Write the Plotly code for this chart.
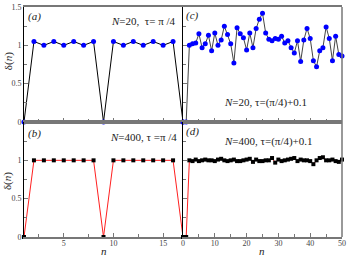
import plotly.graph_objects as go

# ---------------- data ----------------
n_left = list(range(1, 18))
delta_a = [0, 1.05, 1.0, 1.05, 1.0, 1.05, 1.0, 1.05, 0, 1.05, 1.0, 1.05, 1.0, 1.05, 1.0, 1.05, 0]
delta_b = [0, 1, 1, 1, 1, 1, 1, 1, 0, 1, 1, 1, 1, 1, 1, 1, 0]

n_right = list(range(0, 51))
delta_c = [0, 0, 1.0, 1.02, 1.03, 1.15, 0.97, 1.02, 1.13, 0.93, 1.16, 1.0, 1.07, 1.25,
           1.14, 1.02, 0.77, 1.23, 1.15, 1.10, 0.94, 1.16, 0.97, 1.22, 1.34,
           1.42, 1.16, 1.08, 1.06, 1.09, 1.08, 1.12, 1.03, 1.06, 0.97, 0.90, 1.06,
           0.79, 1.07, 1.22, 1.09, 0.80, 0.72, 0.93, 0.97, 1.24, 1.09, 0.80, 1.12,
           0.88, 0.86]
delta_d = [0, 0, 1.00, 0.99, 1.01, 0.99, 1.00, 1.01, 1.00, 1.00, 0.99, 1.01, 1.02,
           1.00, 0.99, 1.00, 1.01, 0.99, 0.99, 1.00, 1.01, 1.02, 0.98, 1.01, 0.99,
           0.99, 1.00, 1.00, 1.03, 0.97, 1.01, 0.99, 1.00, 1.01, 1.02, 1.03, 0.99,
           1.01, 1.00, 1.00, 0.99, 0.95, 1.00, 1.03, 1.04, 1.00, 1.00, 1.01, 0.99,
           0.98, 1.01]

W, H = 349, 257
ML, MR, MT, MB = 24, 5, 3, 20
PW, PH = W - ML - MR, H - MT - MB
FONT = "Liberation Serif"


def px(x):
    return (x - ML) / PW


def py(y):
    return (H - MB - y) / PH


fig = go.Figure()

blue_m = dict(symbol="circle", size=5, color="#0000ff")
sq_m = dict(symbol="square", size=4, color="black")

fig.add_trace(go.Scatter(x=n_left, y=delta_a, mode="lines+markers", xaxis="x", yaxis="y",
                         line=dict(color="black", width=1), marker=blue_m, cliponaxis=False))
fig.add_trace(go.Scatter(x=n_right, y=delta_c, mode="lines+markers", xaxis="x2", yaxis="y2",
                         line=dict(color="#444444", width=1), marker=blue_m, cliponaxis=False))
fig.add_trace(go.Scatter(x=n_left, y=delta_b, mode="lines+markers", xaxis="x3", yaxis="y3",
                         line=dict(color="#ff2020", width=1), marker=sq_m, cliponaxis=False))
fig.add_trace(go.Scatter(x=n_right, y=delta_d, mode="lines+markers", xaxis="x4", yaxis="y4",
                         line=dict(color="#ff2020", width=1), marker=sq_m, cliponaxis=False))

tickfont = dict(family=FONT, size=8, color="#444444")
GRAY = "#777777"


def xax(domain, anchor, rng, dtick, mdtick, labels):
    return dict(domain=domain, anchor=anchor, range=rng, dtick=dtick, tick0=0,
                ticks="inside", ticklen=4, tickwidth=1, tickcolor=GRAY,
                minor=dict(dtick=mdtick, tick0=0, ticks="inside", ticklen=3, tickcolor=GRAY),
                showline=True, linecolor=GRAY, linewidth=1.5, mirror=True,
                showgrid=False, zeroline=False, showticklabels=labels,
                tickfont=tickfont, ticklabelstandoff=-2)


def yax(domain, anchor, labels, text):
    return dict(domain=domain, anchor=anchor, range=[0, 1.5],
                tickmode="array", tickvals=[0, 0.5, 1, 1.5], ticktext=text,
                ticks="inside", ticklen=4, tickwidth=1, tickcolor=GRAY,
                minor=dict(tickvals=[0.25, 0.75, 1.25], ticks="inside", ticklen=3, tickcolor=GRAY),
                showline=True, linecolor="black", linewidth=1,
                showgrid=False, zeroline=False, showticklabels=labels,
                tickfont=tickfont)


fig.update_layout(
    width=W, height=H, margin=dict(l=ML, r=MR, t=MT, b=MB),
    paper_bgcolor="white", plot_bgcolor="white", showlegend=False,
    xaxis=xax([0, 0.5], "y", [1, 17], 5, 2.5, False),
    yaxis=yax([0.5, 1], "x", True, ["0", "0.5", "1", "1.5"]),
    xaxis2=xax([0.5, 1], "y2", [0, 50], 10, 5, False),
    yaxis2=yax([0.5, 1], "x2", False, ["", "", "", ""]),
    xaxis3=xax([0, 0.5], "y3", [1, 17], 5, 2.5, True),
    yaxis3=yax([0, 0.5], "x3", True, ["0", "0.5", "1", ""]),
    xaxis4=xax([0.5, 1], "y4", [0, 50], 10, 5, True),
    yaxis4=yax([0, 0.5], "x4", False, ["", "", "", ""]),
)

# right borders in gray
for y0, y1 in [(0, 0.5), (0.5, 1)]:
    fig.add_shape(type="line", xref="paper", yref="paper", x0=1, x1=1, y0=y0, y1=y1,
                  line=dict(color=GRAY, width=1.5))

afont = dict(family=FONT, size=11, color="#222222")


def ann(text, x, y, xanchor="left", angle=0):
    fig.add_annotation(text=text, xref="paper", yref="paper", x=px(x), y=py(y),
                       xanchor=xanchor, yanchor="middle", showarrow=False,
                       font=afont, textangle=angle)


ann("<i>(a)</i>", 26, 13)
ann("<i>N</i>=20,  τ= π /4", 179, 17, "right")
ann("<i>(c)</i>", 185, 12)
ann("<i>N</i>=20, τ=(π/4)+0.1", 223, 100)
ann("<i>(b)</i>", 26, 132)
ann("<i>N</i>=400, τ =π /4", 180, 135, "right")
ann("<i>(d)</i>", 185, 130)
ann("<i>N</i>=400, τ=(π/4)+0.1", 223, 140)
ann("<i>n</i>", 104, 251, "center")
ann("<i>n</i>", 263, 251, "center")
ann("δ(<i>n</i>)", 8, 58, "center", -90)
ann("δ(<i>n</i>)", 8, 180, "center", -90)

fig.write_html("out.html", config={"displayModeBar": False},
               post_script="document.body.style.margin='0';document.body.style.overflow='hidden';")
